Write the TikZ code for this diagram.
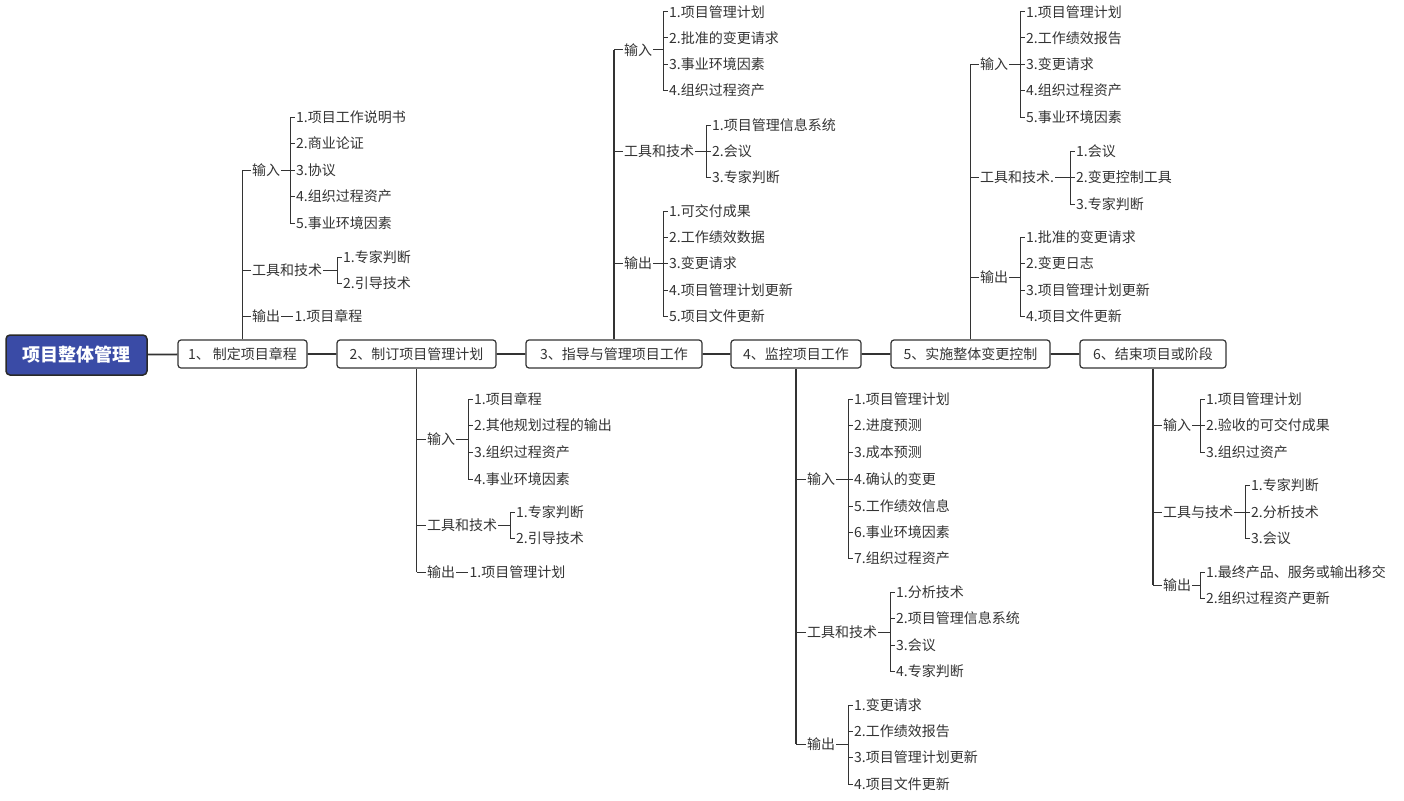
\documentclass[tikz,border=0pt]{standalone}
\usepackage{fontspec}
\setmainfont{Noto Sans CJK SC}
\usetikzlibrary{calc}
\definecolor{ln}{HTML}{333333}
\definecolor{rootblue}{HTML}{3A4BA6}
\tikzset{
  lbl/.style={inner sep=1pt,text=ln,font=\fontsize{14}{16}\selectfont},
  leaf/.style={inner sep=1pt,text=ln,font=\fontsize{14}{16}\selectfont},
  main/.style={draw=ln,line width=1.2pt,rounded corners=3pt,minimum height=28pt,inner sep=2pt,text=ln,font=\fontsize{14}{16}\selectfont},
  root/.style={draw=ln!80!black,line width=1.5pt,fill=rootblue,rounded corners=4pt,minimum width=141pt,minimum height=40pt,text=white,font=\fontsize{18}{20}\selectfont\bfseries},
  conn/.style={draw=ln,line width=1pt},
  spine/.style={draw=ln,line width=1.8pt}
}
% #1 name, #2 main node, #3 spine x, #4 label y, #5 label, #6 bracket x, #7 list y/text
\newcommand\grp[7]{%
  \node[lbl,anchor=west] (#1) at (#3+10,#4) {#5};
  \draw[conn] (#2.north |- #1.west) -- (#1.west);
  \draw[conn] (#1.east) -- (#6,#4);
  \foreach \y/\t [count=\i, remember=\y as \py (initially 0)] in {#7}{
    \node[leaf,anchor=west] (#1-\i) at (#6+5,\y) {\t};
    \draw[conn] (#6,\y) -- (#1-\i.west);
    \ifnum\i>1 \draw[conn] (#6,\py) -- (#6,\y);\fi
  }%
}
\newcommand\single[6]{% name, main, spine x, y, label, leaf
  \node[lbl,anchor=west] (#1) at (#3+10,#4) {#5};
  \draw[conn] (#2.north |- #1.west) -- (#1.west);
  \node[leaf,anchor=west] (#1-1) at ($(#1.east)+(12,0)$) {#6};
  \draw[conn] (#1.east) -- (#1-1.west);
}
\begin{document}
\begin{tikzpicture}[x=1pt,y=-1pt]
\useasboundingbox (0,0) rectangle (1404,800);
\node[root] (r) at (76.5,355) {项目整体管理};
\node[main,minimum width=129pt] (m1) at (242.5,354) {1、 制定项目章程};
\node[main,minimum width=159pt] (m2) at (416.5,354) {2、制订项目管理计划};
\node[main,minimum width=176pt] (m3) at (614,354) {3、指导与管理项目工作};
\node[main,minimum width=130pt] (m4) at (796,354) {4、监控项目工作};
\node[main,minimum width=159pt] (m5) at (970.5,354) {5、实施整体变更控制};
\node[main,minimum width=146pt] (m6) at (1153,354) {6、结束项目或阶段};
\draw[spine] (r) -- (m1) -- (m2) -- (m3) -- (m4) -- (m5) -- (m6);

% 1
\draw[spine,line width=1.3pt] (m1.north) -- (m1.north |- 0,170);
\grp{a1}{m1}{241}{170}{输入}{290}{117/1.项目工作说明书,143/2.商业论证,170/3.协议,196/4.组织过程资产,223/5.事业环境因素}
\grp{a2}{m1}{241}{270}{工具和技术}{337}{257/1.专家判断,283/2.引导技术}
\single{a3}{m1}{241}{316}{输出}{1.项目章程}

% 2
\draw[spine,line width=1.3pt] (m2.south) -- (m2.south |- 0,572);
\grp{b1}{m2}{416}{439}{输入}{468}{399/1.项目章程,425/2.其他规划过程的输出,452/3.组织过程资产,479/4.事业环境因素}
\grp{b2}{m2}{416}{525}{工具和技术}{510}{512/1.专家判断,538/2.引导技术}
\single{b3}{m2}{416}{572}{输出}{1.项目管理计划}

% 3
\draw[spine,line width=1.3pt] (m3.north) -- (m3.north |- 0,50);
\grp{c1}{m3}{613}{50}{输入}{663}{12/1.项目管理计划,38/2.批准的变更请求,64/3.事业环境因素,90/4.组织过程资产}
\grp{c2}{m3}{613}{151}{工具和技术}{706}{125/1.项目管理信息系统,151/2.会议,177/3.专家判断}
\grp{c3}{m3}{613}{263}{输出}{663}{211/1.可交付成果,237/2.工作绩效数据,263/3.变更请求,290/4.项目管理计划更新,316/5.项目文件更新}

% 4
\draw[spine,line width=1.3pt] (m4.south) -- (m4.south |- 0,744);
\grp{d1}{m4}{796}{479}{输入}{848}{399/1.项目管理计划,425/2.进度预测,452/3.成本预测,479/4.确认的变更,506/5.工作绩效信息,532/6.事业环境因素,558/7.组织过程资产}
\grp{d2}{m4}{796}{632}{工具和技术}{890}{592/1.分析技术,618/2.项目管理信息系统,645/3.会议,671/4.专家判断}
\grp{d3}{m4}{796}{744}{输出}{848}{705/1.变更请求,731/2.工作绩效报告,757/3.项目管理计划更新,784/4.项目文件更新}

% 5
\draw[spine,line width=1.3pt] (m5.north) -- (m5.north |- 0,64);
\grp{e1}{m5}{969}{64}{输入}{1020}{12/1.项目管理计划,38/2.工作绩效报告,64/3.变更请求,90/4.组织过程资产,117/5.事业环境因素}
\grp{e2}{m5}{969}{177}{工具和技术.}{1070}{151/1.会议,177/2.变更控制工具,204/3.专家判断}
\grp{e3}{m5}{969}{277}{输出}{1020}{237/1.批准的变更请求,263/2.变更日志,290/3.项目管理计划更新,316/4.项目文件更新}

% 6
\draw[spine,line width=1.3pt] (m6.south) -- (m6.south |- 0,585);
\grp{f1}{m6}{1152}{425}{输入}{1200}{399/1.项目管理计划,425/2.验收的可交付成果,452/3.组织过资产}
\grp{f2}{m6}{1152}{512}{工具与技术}{1245}{485/1.专家判断,512/2.分析技术,538/3.会议}
\grp{f3}{m6}{1152}{585}{输出}{1200}{572/1.最终产品、服务或输出移交,598/2.组织过程资产更新}
\end{tikzpicture}
\end{document}
